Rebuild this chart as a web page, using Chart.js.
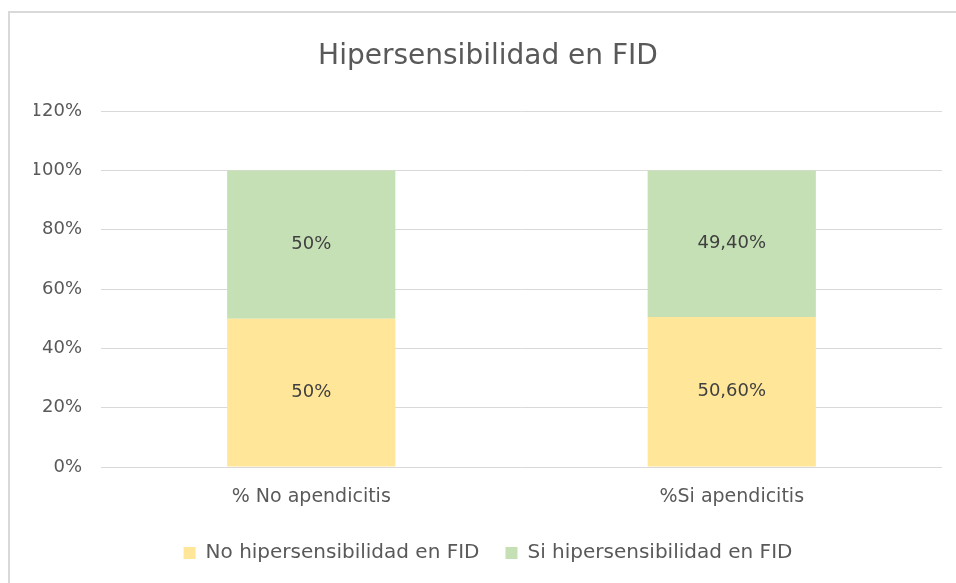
<!DOCTYPE html>
<html>
<head>
<meta charset="utf-8">
<script src="https://cdn.jsdelivr.net/npm/chart.js@4"></script>
<style>
  html, body { margin: 0; padding: 0; background: #fff; }
  #frame {
    position: absolute; left: 8px; top: 11px; width: 960px; height: 600px;
    border-top: 2px solid #D9D9D9; border-left: 2px solid #D9D9D9;
  }
  #wrap { position: absolute; left: 0; top: 0; width: 956px; height: 583px; }
</style>
</head>
<body>
<div id="frame"></div>
<div id="wrap"><canvas id="myChart"></canvas></div>
<script>
// Data
const categories = ['% No apendicitis', '%Si apendicitis'];
const seriesNames = ['No hipersensibilidad en FID', 'Si hipersensibilidad en FID'];
const noHipersensibilidad = [50, 50.6];
const siHipersensibilidad = [50, 49.4];
const yTicks = [0, 20, 40, 60, 80, 100, 120];

const FONT = "'DejaVu Sans', sans-serif";

// Format like the original: 50% / 50,60%
function formatPct(v) {
    if (Number.isInteger(v)) return v + '%';
    return v.toFixed(2).replace('.', ',') + '%';
}

// Draw value labels in the middle of each bar segment
const barLabels = {
    id: 'barLabels',
    afterDatasetsDraw(chart) {
        const ctx = chart.ctx;
        ctx.save();
        ctx.font = "18px " + FONT;
        ctx.fillStyle = '#404040';
        ctx.textAlign = 'center';
        ctx.textBaseline = 'middle';
        chart.data.datasets.forEach((ds, i) => {
            const meta = chart.getDatasetMeta(i);
            meta.data.forEach((bar, j) => {
                const p = bar.getCenterPoint();
                ctx.fillText(formatPct(ds.data[j]), p.x, p.y);
            });
        });
        ctx.restore();
    }
};

const ctx = document.getElementById('myChart').getContext('2d');
new Chart(ctx, {
    type: 'bar',
    data: {
        labels: categories,
        datasets: [
            {
                label: seriesNames[0],
                data: noHipersensibilidad,
                backgroundColor: '#FFE699'
            },
            {
                label: seriesNames[1],
                data: siHipersensibilidad,
                backgroundColor: '#C5E0B4'
            }
        ]
    },
    options: {
        responsive: true,
        maintainAspectRatio: false,
        animation: false,
        datasets: {
            bar: { categoryPercentage: 1.0, barPercentage: 0.4 }
        },
        layout: {
            padding: { left: 34, right: 14, top: 0, bottom: 10 }
        },
        plugins: {
            title: {
                display: true,
                text: 'Hipersensibilidad en FID',
                color: '#595959',
                font: { family: FONT, size: 28, weight: 'normal', lineHeight: 1.2 },
                padding: { top: 40, bottom: 37.6 }
            },
            legend: {
                position: 'bottom',
                labels: {
                    color: '#595959',
                    font: { family: FONT, size: 20 },
                    boxWidth: 12,
                    boxHeight: 12,
                    padding: 26
                }
            },
            tooltip: { enabled: false }
        },
        scales: {
            x: {
                stacked: true,
                grid: { display: false },
                border: { display: false },
                ticks: {
                    color: '#595959',
                    font: { family: FONT, size: 19 },
                    padding: 11
                },
                afterFit(scale) { scale.height = 50; }
            },
            y: {
                stacked: true,
                min: 0,
                max: 120,
                afterBuildTicks(scale) {
                    scale.ticks = yTicks.map(v => ({ value: v }));
                },
                grid: { color: '#D9D9D9', lineWidth: 1, drawTicks: false },
                border: { display: false },
                ticks: {
                    color: '#595959',
                    font: { family: FONT, size: 18 },
                    padding: 19,
                    callback: v => v + '%'
                },
                afterFit(scale) { scale.width = 67; }
            }
        }
    },
    plugins: [barLabels]
});
</script>
</body>
</html>
